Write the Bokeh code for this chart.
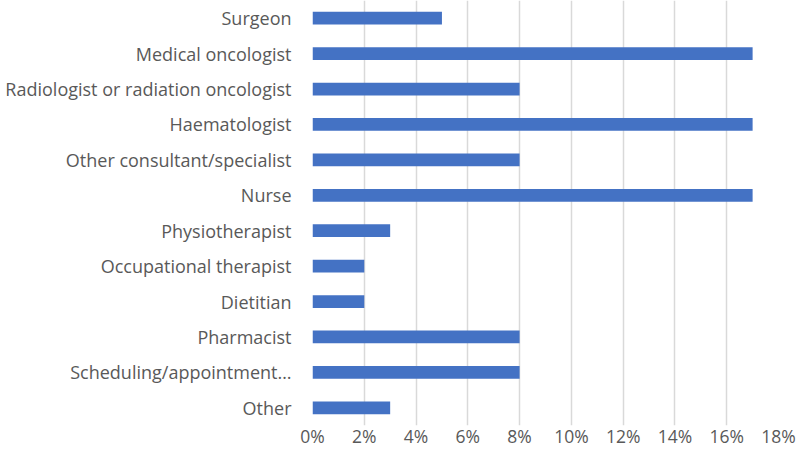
from bokeh.plotting import figure
from bokeh.models import FactorRange, Range1d, FixedTicker, PrintfTickFormatter, ColumnDataSource
from bokeh.embed import file_html
from bokeh.resources import INLINE

categories = ["Surgeon", "Medical oncologist", "Radiologist or radiation oncologist",
              "Haematologist", "Other consultant/specialist", "Nurse", "Physiotherapist",
              "Occupational therapist", "Dietitian", "Pharmacist",
              "Scheduling/appointment\u2026", "Other"]
values = [5, 17, 8, 17, 8, 17, 3, 2, 2, 8, 8, 3]
tick_values = [0, 2, 4, 6, 8, 10, 12, 14, 16, 18]

src = ColumnDataSource(dict(cat=categories, val=values))

p = figure(width=800, height=455, output_backend="svg", toolbar_location=None,
           y_range=FactorRange(factors=list(reversed(categories)), range_padding=0),
           x_range=Range1d(0, 18),
           min_border_left=312, min_border_right=22, min_border_top=0, min_border_bottom=30)

p.hbar(y="cat", right="val", left=0, height=0.36, source=src, color="#4472C4", line_color=None)

p.outline_line_color = None
p.ygrid.grid_line_color = None
p.xgrid.grid_line_color = "#d9d9d9"
p.xgrid.grid_line_width = 1.5
p.xaxis.ticker = FixedTicker(ticks=tick_values)
p.xaxis.formatter = PrintfTickFormatter(format="%d%%")

for ax in (p.xaxis, p.yaxis):
    ax.axis_line_color = None
    ax.major_tick_line_color = None
    ax.minor_tick_line_color = None
    ax.major_label_text_color = "#595959"
    ax.major_label_text_font = "Open Sans"
    ax.major_label_text_font_size = "17.5px"
p.yaxis.major_label_text_font_size = "18px"
p.yaxis.major_label_standoff = 15
p.xaxis.major_label_standoff = -8

open("out.html", "w").write(file_html(p, INLINE))
